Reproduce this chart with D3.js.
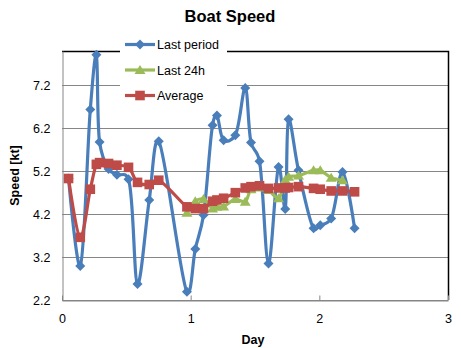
<!DOCTYPE html>
<html>
<head>
<meta charset="utf-8">
<script src="https://cdn.jsdelivr.net/npm/d3@7/dist/d3.min.js"></script>
<style>
  body { margin: 0; background: #fff; }
  svg text { font-family: "Liberation Sans", Arial, sans-serif; fill: #000; }
</style>
</head>
<body>
<svg id="chart" width="461" height="348"></svg>
<script>
// Elapsed time of each log entry, in days
const days = [0.051, 0.142, 0.220, 0.267, 0.292, 0.362, 0.427, 0.517, 0.587, 0.678, 0.752,
              0.971, 1.036, 1.100, 1.170, 1.204, 1.256, 1.347, 1.424, 1.469, 1.535, 1.605,
              1.683, 1.735, 1.761, 1.838, 1.955, 2.007, 2.092, 2.180, 2.274];
// Speed over the last logged period [kt]
const lastPeriod = [5.03, 2.99, 6.64, 7.91, 5.88, 5.25, 5.12, 5.01, 2.57, 4.53, 5.90,
                    2.39, 3.39, 4.18, 6.27, 6.50, 5.92, 6.04, 7.14, 5.87, 5.43, 3.05,
                    5.30, 4.32, 6.41, 5.22, 3.87, 3.94, 4.10, 5.18, 3.87];
// Rolling 24 h mean speed [kt] (only available after the first day)
const last24h = [null, null, null, null, null, null, null, null, null, null, null,
                 4.23, 4.50, 4.55, 4.33, 4.37, 4.38, 4.55, 4.49, 4.78, 4.82, 4.76,
                 4.57, 5.00, 5.07, 5.10, 5.22, 5.22, 5.05, 4.99, null];
// Mean speed since the start [kt]
const average = [5.03, 3.66, 4.78, 5.36, 5.40, 5.38, 5.34, 5.29, 4.94, 4.89, 4.99,
                 4.37, 4.33, 4.33, 4.50, 4.53, 4.57, 4.70, 4.81, 4.84, 4.86, 4.80,
                 4.81, 4.81, 4.82, 4.84, 4.80, 4.78, 4.74, 4.74, 4.72];

const yTicks = [2.2, 3.2, 4.2, 5.2, 6.2, 7.2];
const xTicks = [0, 1, 2, 3];
const seriesNames = ["Last period", "Last 24h", "Average"];
const seriesColors = ["#4A7EBB", "#9BBB59", "#BE4B48"];
const seriesMarkers = ["diamond", "triangle", "square"];

const svg = d3.select("#chart");
const plot = { left: 62, right: 448, top: 51, bottom: 300 };

const x = d3.scaleLinear().domain([0, 3]).range([plot.left, plot.right]);
const y = d3.scaleLinear().domain([2.2, 8.0]).range([plot.bottom, plot.top]);

// Title
svg.append("text")
  .attr("x", 230).attr("y", 22)
  .attr("text-anchor", "middle")
  .style("font-size", "16.5px").style("font-weight", "bold")
  .text("Boat Speed");

// Horizontal gridlines
svg.append("g").selectAll("line").data(yTicks).join("line")
  .attr("x1", plot.left).attr("x2", plot.right)
  .attr("y1", d => Math.round(y(d)) + 0.5).attr("y2", d => Math.round(y(d)) + 0.5)
  .attr("stroke", "#868686").attr("stroke-width", 1);

// Plot frame: dark top and right edges
svg.append("path")
  .attr("d", `M${plot.left},${plot.top + 0.5}H${plot.right + 0.5}V${plot.bottom}`)
  .attr("fill", "none").attr("stroke", "#000").attr("stroke-width", 1.5);

// Y axis
const yAxis = d3.axisLeft(y).tickValues(yTicks).tickFormat(d3.format(".1f")).tickSize(0).tickPadding(12);
const gy = svg.append("g").attr("transform", `translate(${plot.left + 0.5},0)`).call(yAxis);
gy.select(".domain").attr("stroke", "#868686");
gy.selectAll("text").style("font-size", "12.5px").style("font-family", "'Liberation Sans', Arial, sans-serif");

// X axis with short inside ticks
const xAxis = d3.axisBottom(x).tickValues(xTicks).tickFormat(d3.format("d")).tickSizeInner(-5).tickSizeOuter(0).tickPadding(14);
const gx = svg.append("g").attr("transform", `translate(0,${plot.bottom + 0.5})`).call(xAxis);
gx.select(".domain").attr("stroke", "#868686");
gx.selectAll(".tick line").attr("stroke", "#868686");
gx.selectAll("text").style("font-size", "12.5px").style("font-family", "'Liberation Sans', Arial, sans-serif");

// Axis titles
svg.append("text")
  .attr("transform", `translate(19,${(plot.top + plot.bottom) / 2}) rotate(-90)`)
  .attr("text-anchor", "middle")
  .style("font-size", "12.5px").style("font-weight", "bold")
  .text("Speed [kt]");
svg.append("text")
  .attr("x", 253).attr("y", 344)
  .attr("text-anchor", "middle")
  .style("font-size", "12.5px").style("font-weight", "bold")
  .text("Day");

// Marker shapes
function markerPath(kind) {
  if (kind === "diamond") return "M0,-5L5,0L0,5L-5,0Z";
  if (kind === "triangle") return "M0,-5L5.5,4L-5.5,4Z";
  return "M-4.8,-4.8H4.8V4.8H-4.8Z";
}

svg.append("clipPath").attr("id", "plotClip").append("rect")
  .attr("x", plot.left - 8).attr("y", plot.top - 8)
  .attr("width", plot.right - plot.left + 16).attr("height", plot.bottom - plot.top + 16);

const series = [lastPeriod, last24h, average];
const layer = svg.append("g").attr("clip-path", "url(#plotClip)");

series.forEach((vals, i) => {
  const pts = days.map((d, j) => ({ d, v: vals[j] })).filter(p => p.v != null);
  // smoothed line through the points
  const line = d3.line().x(p => x(p.d)).y(p => y(p.v)).curve(d3.curveCatmullRom.alpha(0.25));
  const g = layer.append("g");
  g.append("path").datum(pts)
    .attr("d", line)
    .attr("fill", "none")
    .attr("stroke", seriesColors[i])
    .attr("stroke-width", 3.2)
    .attr("stroke-linejoin", "round");
  g.selectAll("path.mk").data(pts).join("path")
    .attr("class", "mk")
    .attr("transform", p => `translate(${x(p.d)},${y(p.v)})`)
    .attr("d", markerPath(seriesMarkers[i]))
    .attr("fill", seriesColors[i]);
});

// Legend (sits on top of the plot area)
const legend = svg.append("g");
legend.append("rect")
  .attr("x", 120).attr("y", 34).attr("width", 107).attr("height", 74)
  .attr("fill", "#fff");
seriesNames.forEach((name, i) => {
  const cy = 44.5 + i * 25.5;
  legend.append("line")
    .attr("x1", 125).attr("x2", 155).attr("y1", cy).attr("y2", cy)
    .attr("stroke", seriesColors[i]).attr("stroke-width", 3.2);
  legend.append("path")
    .attr("transform", `translate(140,${cy})`)
    .attr("d", markerPath(seriesMarkers[i]))
    .attr("fill", seriesColors[i]);
  legend.append("text")
    .attr("x", 157).attr("y", cy + 4.5)
    .style("font-size", "12.5px")
    .text(name);
});
</script>
</body>
</html>
